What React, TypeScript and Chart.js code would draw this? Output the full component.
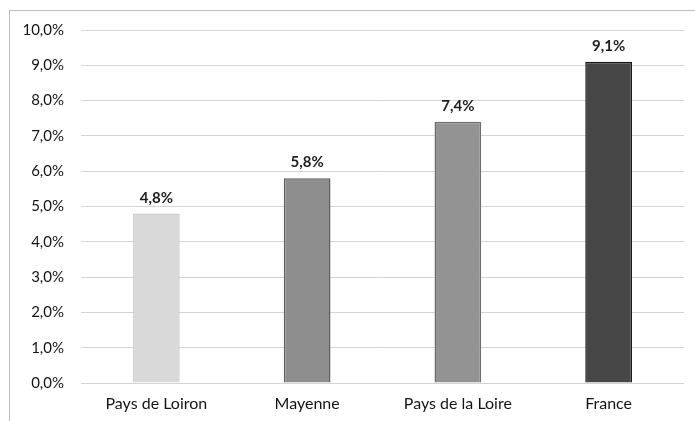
import React, { useEffect, useRef } from "react";
import { Chart, registerables } from "chart.js";

Chart.register(...registerables);

const categories = ["Pays de Loiron", "Mayenne", "Pays de la Loire", "France"];
const values = [4.8, 5.8, 7.4, 9.1];
const fillColors = ["#d9d9d9", "#8e8e8e", "#939393", "#474747"];
const borderColors = ["#cfcfcf", "#5e5e5e", "#6e6e6e", "#1a1a1a"];

const FONT = "Lato, 'Open Sans', sans-serif";

const fmt = (v: number) => v.toFixed(1).replace(".", ",") + "%";

const labelPlugin = {
  id: "barLabels",
  afterDatasetsDraw(chart: any) {
    const ctx = chart.ctx;
    const meta = chart.getDatasetMeta(0);
    ctx.save();
    ctx.font = `bold 15px ${FONT}`;
    ctx.fillStyle = "#1e1e1e";
    ctx.textAlign = "center";
    ctx.textBaseline = "alphabetic";
    meta.data.forEach((bar: any, i: number) => {
      ctx.fillText(fmt(values[i]), bar.x, bar.y - 11);
    });
    ctx.restore();
  },
};

export default function App() {
  const ref = useRef<HTMLCanvasElement>(null);
  useEffect(() => {
    const chart = new Chart(ref.current!, {
      type: "bar",
      data: {
        labels: categories,
        datasets: [
          {
            data: values,
            backgroundColor: fillColors,
            borderColor: borderColors,
            borderWidth: 1.5,
            barPercentage: 0.31,
            categoryPercentage: 1,
          },
        ],
      },
      options: {
        animation: false,
        responsive: false,
        maintainAspectRatio: false,
        layout: { padding: { top: 30, right: 11, left: 0, bottom: 0 } },
        plugins: { legend: { display: false }, tooltip: { enabled: false } },
        scales: {
          x: {
            grid: { display: false, drawTicks: false },
            border: { display: false },
            ticks: { color: "#141414", font: { family: FONT, size: 16 }, padding: 11 },
            afterFit: (s: any) => { s.height = 38; },
          },
          y: {
            min: 0,
            max: 10,
            ticks: {
              stepSize: 1,
              color: "#141414",
              font: { family: FONT, size: 15 },
              padding: 17,
              callback: (v: any) => fmt(Number(v)),
            },
            grid: { color: "#d4d4d4", drawTicks: false, lineWidth: 1 },
            border: { display: false },
            afterFit: (s: any) => { s.width = 81; },
          },
        },
      },
      plugins: [labelPlugin],
    });
    return () => chart.destroy();
  }, []);
  return (
    <div style={{ position: "fixed", left: 0, top: 0, width: 695, height: 421, background: "#fff" }}>
      <div
        style={{
          position: "absolute",
          left: 9,
          top: 10,
          width: 700,
          height: 420,
          borderLeft: "1px solid #bdbdbd",
          borderTop: "1px solid #bdbdbd",
        }}
      />
      <canvas ref={ref} width={695} height={421} style={{ position: "absolute", left: 0, top: 0 }} />
    </div>
  );
}
